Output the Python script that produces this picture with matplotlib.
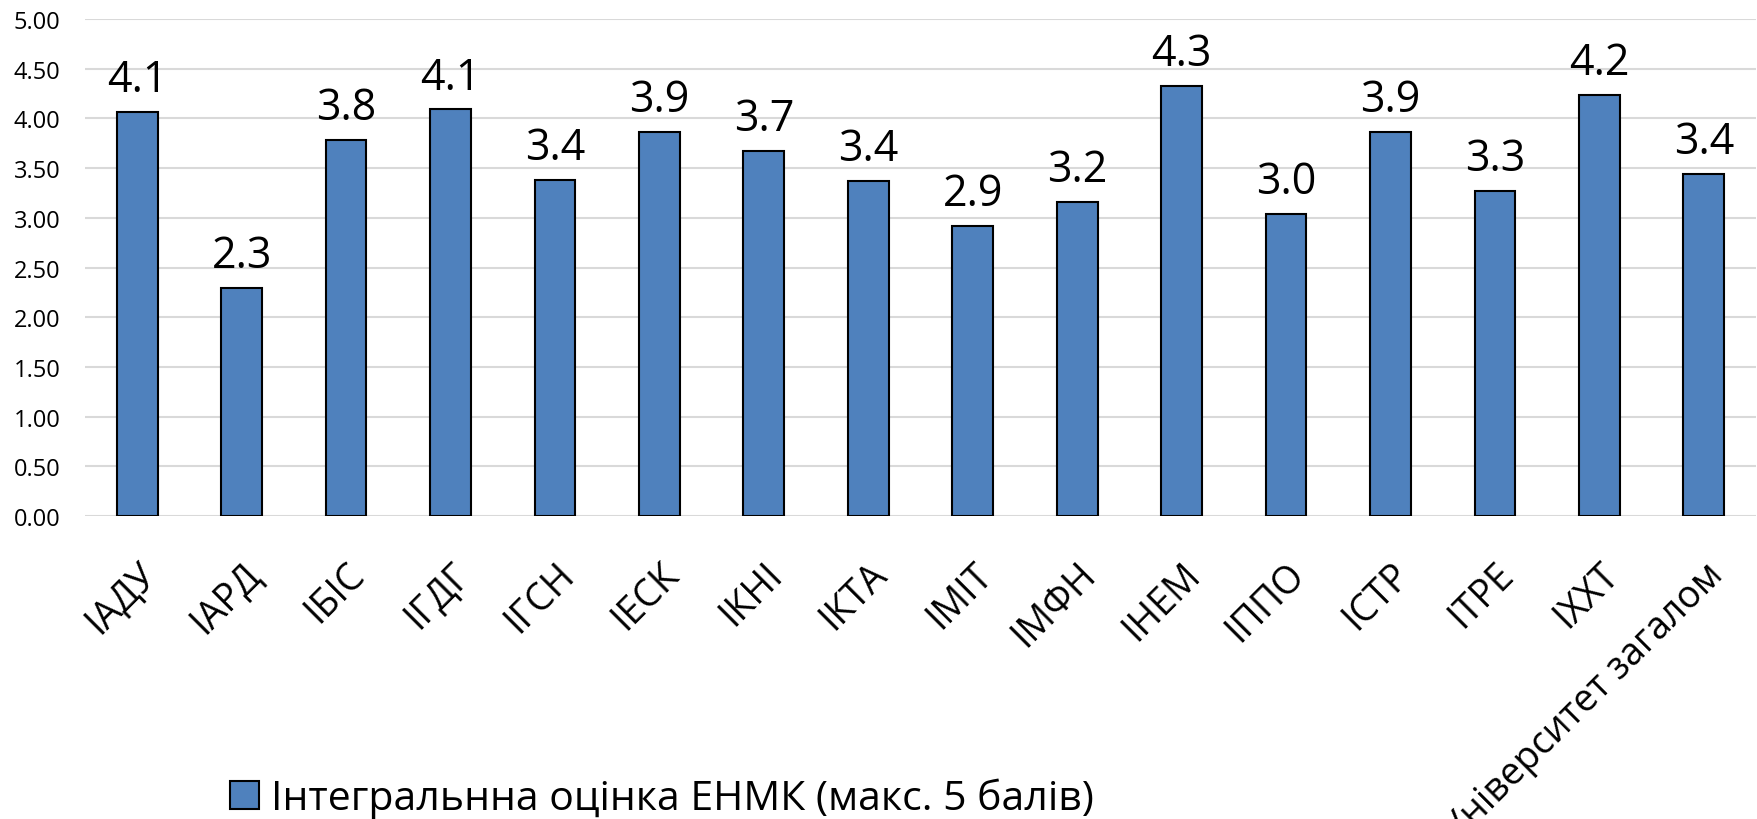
import matplotlib
matplotlib.use("Agg")
import matplotlib.pyplot as plt
from matplotlib.ticker import FormatStrFormatter
from matplotlib.patches import Patch

plt.rcParams['font.family'] = ['Open Sans', 'DejaVu Sans']

# Institutes and integral score (max 5)
institutes = ['ІАДУ', 'ІАРД', 'ІБІС', 'ІГДГ', 'ІГСН', 'ІЕСК', 'ІКНІ', 'ІКТА',
              'ІМІТ', 'ІМФН', 'ІНЕМ', 'ІППО', 'ІСТР', 'ІТРЕ', 'ІХХТ',
              'Університет загалом']
scores = [4.06, 2.29, 3.78, 4.09, 3.38, 3.86, 3.67, 3.37,
          2.92, 3.16, 4.33, 3.04, 3.86, 3.27, 4.24, 3.44]
series_name = 'Інтегральнна оцінка ЕНМК (макс. 5 балів)'
bar_color = '#4F81BD'

fig = plt.figure(figsize=(17.58, 8.2), dpi=100)
ax = fig.add_axes([85 / 1758, 1 - 517 / 820, 1 - 87 / 1758, (517 - 20) / 820])

x = range(len(institutes))
bars = ax.bar(x, scores, width=0.39, color=bar_color, edgecolor='black',
              linewidth=1.5, zorder=3)

# value labels above bars
for xi, v in zip(x, scores):
    ax.text(xi, v + 0.1, f'{v:.1f}', ha='center', va='bottom', fontsize=31)

ax.set_ylim(0, 5)
ax.set_xlim(-0.5, len(institutes) - 0.5)
ax.set_yticks([i * 0.5 for i in range(11)])
ax.yaxis.set_major_formatter(FormatStrFormatter('%.2f'))
ax.grid(axis='y', color='#d9d9d9', linewidth=1.5, zorder=0)
ax.tick_params(axis='y', length=0, labelsize=17, pad=17.5)
ax.tick_params(axis='x', length=0, labelsize=27, pad=28)
ax.set_xticks(list(x))
ax.set_xticklabels(institutes, rotation=45, ha='right', va='top',
                   rotation_mode='anchor')
for s in ax.spines.values():
    s.set_visible(False)

handle = Patch(facecolor=bar_color, edgecolor='black', linewidth=1.5)
fig.legend([handle], [series_name], loc='center left',
           bbox_to_anchor=(0.11, 0.025), frameon=False, fontsize=29.5,
           handlelength=0.7, handleheight=0.7, handletextpad=0.3)

fig.savefig('out.png', dpi=100)
